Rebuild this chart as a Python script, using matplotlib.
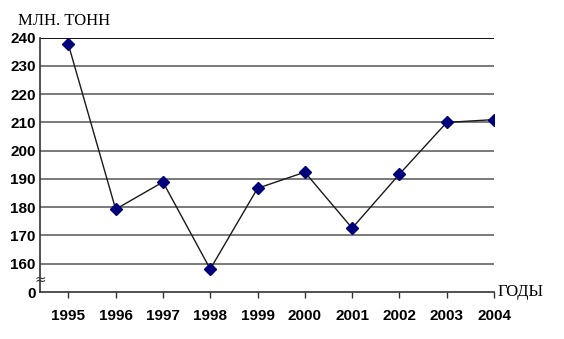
import numpy as np
import matplotlib.pyplot as plt

years = [1995, 1996, 1997, 1998, 1999, 2000, 2001, 2002, 2003, 2004]
values = [237.6, 179.3, 188.9, 158.1, 186.7, 192.4, 172.6, 191.7, 210.0, 211.0]
y_ticks = [150, 160, 170, 180, 190, 200, 210, 220, 230, 240]
y_labels = ["0", "160", "170", "180", "190", "200", "210", "220", "230", "240"]
BASE = 150  # axis break: 0 is drawn one step below 160

fig = plt.figure(figsize=(5.64, 3.39), dpi=100)
ax = fig.add_axes([0.0709, 0.1386, 0.8050, 0.7504])

for t in y_ticks[1:]:
    ax.axhline(t - BASE, color="#000000" if t == 240 else "#6e6e6e", lw=1.3, zorder=1)

ax.plot(years, np.array(values) - BASE, color="#1a1a1a", lw=1.0, marker="D", ms=6.3,
        mfc="#00007a", mec="#00007a", zorder=3)

ax.set_xlim(1994.4, 2004)
ax.set_ylim(0, 90)
ax.set_xticks(years)
ax.set_xticklabels([str(y) for y in years], fontweight="bold", family="Liberation Sans", fontsize=11)
ax.set_yticks([t - BASE for t in y_ticks])
ax.set_yticklabels(y_labels, fontweight="bold", family="Liberation Sans", fontsize=11)
ax.tick_params(axis="x", length=4, width=1, pad=8, color="#333333")
ax.tick_params(axis="y", length=0, pad=3)
for s in ["top", "right"]:
    ax.spines[s].set_visible(False)
for s in ["left", "bottom"]:
    ax.spines[s].set_color("#333333")
    ax.spines[s].set_linewidth(1.2)

# break mark on the y axis
ax.text(0.0, 4.3, "≈", transform=ax.get_yaxis_transform(), ha="center", va="center",
        fontsize=10, color="#333333", zorder=5)

fig.text(0.032, 0.915, "МЛН. ТОНН", family="Liberation Serif", fontsize=12, ha="left", va="bottom")
fig.text(0.883, 0.140, "ГОДЫ", family="Liberation Serif", fontsize=12, ha="left", va="center")

fig.savefig("out.png", dpi=100, facecolor="white")
